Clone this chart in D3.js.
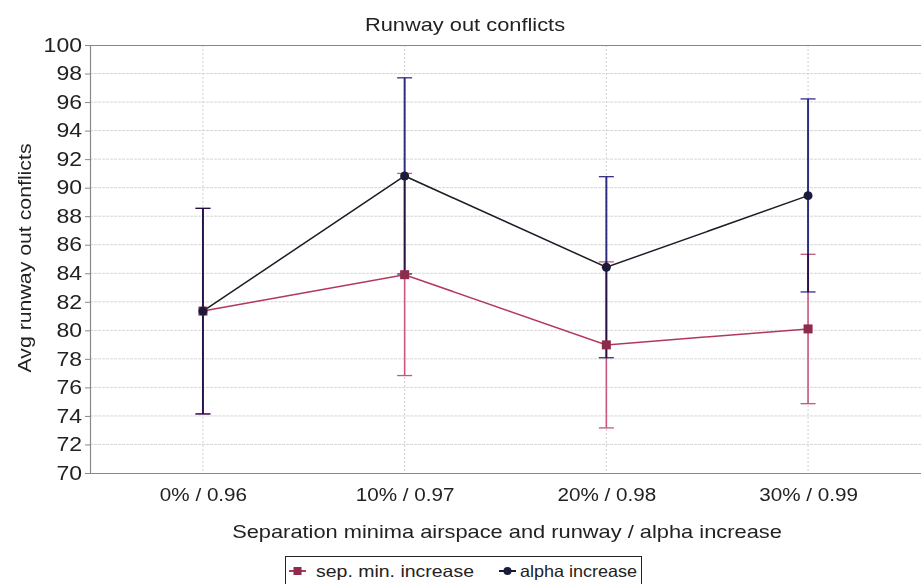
<!DOCTYPE html>
<html><head><meta charset="utf-8">
<script src="https://cdn.jsdelivr.net/npm/d3@7"></script>
<style>body{margin:0;background:#fff;} svg{display:block;font-family:"Liberation Sans",Arial,sans-serif;}</style>
</head><body>
<svg id="chart" width="921" height="584"></svg>
<script>
const categories = ["0% / 0.96", "10% / 0.97", "20% / 0.98", "30% / 0.99"];
const sepMean = [81.35, 83.9, 78.98, 80.1];
const sepLow  = [74.14, 76.83, 73.16, 74.86];
const sepHigh = [88.55, 91.0, 84.8, 85.33];
const alphaMean = [81.35, 90.82, 84.42, 89.44];
const alphaLow  = [74.14, 83.95, 78.08, 82.69];
const alphaHigh = [88.55, 97.7, 90.77, 96.22];
const yTicks = d3.range(70, 101, 2);
const seriesNames = ["sep. min. increase", "alpha increase"];

(function () {
const svg = d3.select("#chart");
const pL = 90, pR = 921, pT = 45, pB = 473;
const x = d3.scalePoint().domain(categories).range([pL, pR]).padding(0.56);
const y = d3.scaleLinear().domain([70, 100]).range([pB, pT]);

// grid
const grid = svg.append("g");
grid.selectAll(".hg").data(yTicks.filter(v => v > 70 && v < 100)).join("line")
  .attr("x1", pL).attr("x2", pR).attr("y1", d => y(d)).attr("y2", d => y(d))
  .attr("stroke", "#d6d6d6").attr("stroke-width", 1).attr("stroke-dasharray", "3,1");
grid.selectAll(".vg").data(categories).join("line")
  .attr("x1", d => x(d)).attr("x2", d => x(d)).attr("y1", pT).attr("y2", pB)
  .attr("stroke", "#cfcfcf").attr("stroke-width", 1).attr("stroke-dasharray", "2,2");

// top border
svg.append("line").attr("x1", pL).attr("x2", pR).attr("y1", pT + 0.5).attr("y2", pT + 0.5)
  .attr("stroke", "#888").attr("stroke-width", 1.2);

function fit(sel, stretch = 1.18) {
  sel.each(function () {
    const w = this.getComputedTextLength();
    d3.select(this).attr("textLength", w * stretch).attr("lengthAdjust", "spacingAndGlyphs");
  });
}

// axes
const yAxis = svg.append("g").attr("transform", `translate(${pL},0)`)
  .call(d3.axisLeft(y).tickValues(yTicks).tickSize(5).tickPadding(3));
yAxis.select(".domain").attr("stroke", "#888").attr("stroke-width", 1.2);
yAxis.selectAll(".tick line").attr("stroke", "#888");
yAxis.selectAll("text").attr("font-size", 19.5).attr("fill", "#222").call(fit);

const xAxis = svg.append("g").attr("transform", `translate(0,${pB})`)
  .call(d3.axisBottom(x).tickSize(0).tickPadding(16));
xAxis.select(".domain").attr("stroke", "#888").attr("stroke-width", 1.2);
xAxis.selectAll("text").attr("font-size", 17.5).attr("fill", "#222").call(fit);

// titles
svg.append("text").attr("x", 465).attr("y", 31).attr("text-anchor", "middle")
  .attr("font-size", 18.5).attr("fill", "#222").text("Runway out conflicts").call(fit);
svg.append("text").attr("transform", `translate(31,258) rotate(-90)`)
  .attr("text-anchor", "middle").attr("font-size", 18.5).attr("fill", "#222").text("Avg runway out conflicts").call(fit, 1.15);
svg.append("text").attr("x", 507).attr("y", 538).attr("text-anchor", "middle")
  .attr("font-size", 18.5).attr("fill", "#222").text("Separation minima airspace and runway / alpha increase").call(fit);

const sepColor = "#b2385a", sepMarker = "#8e2a4a";
const alphaColor = "#1c1c28", alphaBar = "#30308a", alphaMarker = "#1a1a3a";
const capW = 7.5;

function errorBars(lows, highs, color, width, blend) {
  const g = svg.append("g").style("mix-blend-mode", blend);
  categories.forEach((c, i) => {
    const cx = x(c);
    g.append("line").attr("x1", cx).attr("x2", cx).attr("y1", y(lows[i])).attr("y2", y(highs[i]))
      .attr("stroke", color).attr("stroke-width", width);
    [lows[i], highs[i]].forEach(v => g.append("line").attr("x1", cx - capW).attr("x2", cx + capW)
      .attr("y1", y(v)).attr("y2", y(v)).attr("stroke", color).attr("stroke-width", 1.3));
  });
}
errorBars(sepLow, sepHigh, "#c8587a", 1.6, "normal");
errorBars(alphaLow, alphaHigh, alphaBar, 2, "multiply");

const line = d3.line().x((d, i) => x(categories[i])).y(d => y(d));
svg.append("path").datum(sepMean).attr("d", line).attr("fill", "none").attr("stroke", sepColor).attr("stroke-width", 1.5);
svg.append("path").datum(alphaMean).attr("d", line).attr("fill", "none").attr("stroke", alphaColor).attr("stroke-width", 1.5);

svg.selectAll(".sq").data(sepMean).join("rect")
  .attr("x", (d, i) => x(categories[i]) - 4.5).attr("y", d => y(d) - 4.5)
  .attr("width", 9).attr("height", 9).attr("fill", sepMarker);
svg.selectAll(".ci").data(alphaMean).join("circle")
  .attr("cx", (d, i) => x(categories[i])).attr("cy", d => y(d)).attr("r", 4.5).attr("fill", alphaMarker);

// legend
const lg = svg.append("g");
lg.append("rect").attr("x", 285.5).attr("y", 556.5).attr("width", 356).attr("height", 30)
  .attr("fill", "#fff").attr("stroke", "#222").attr("stroke-width", 1);
lg.append("line").attr("x1", 289).attr("x2", 306).attr("y1", 571).attr("y2", 571).attr("stroke", sepColor).attr("stroke-width", 2);
lg.append("rect").attr("x", 293.5).attr("y", 567).attr("width", 8).attr("height", 8).attr("fill", sepMarker);
lg.append("text").attr("x", 316).attr("y", 577).attr("font-size", 16.5).attr("fill", "#222").text(seriesNames[0]).call(fit);
lg.append("line").attr("x1", 499).attr("x2", 516).attr("y1", 571).attr("y2", 571).attr("stroke", alphaColor).attr("stroke-width", 2);
lg.append("circle").attr("cx", 507.5).attr("cy", 571).attr("r", 4).attr("fill", alphaMarker);
lg.append("text").attr("x", 520).attr("y", 577).attr("font-size", 16.5).attr("fill", "#222").text(seriesNames[1]).call(fit, 1.09);
})();
</script>
</body></html>
